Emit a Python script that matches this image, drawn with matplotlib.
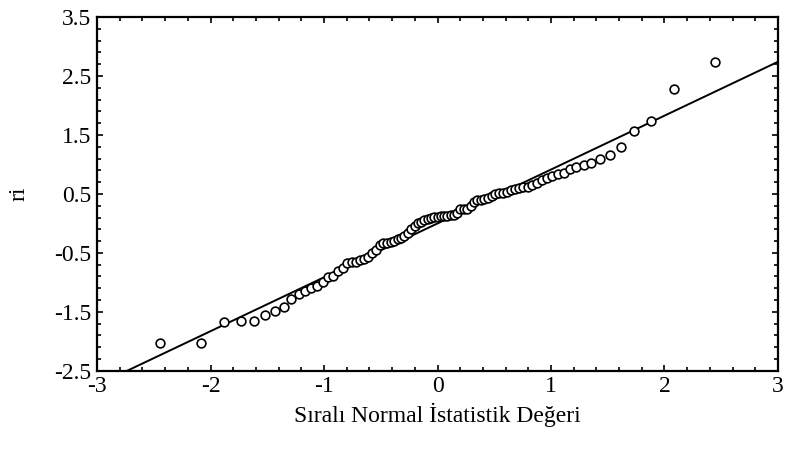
import numpy as np
import matplotlib
matplotlib.use("Agg")
import matplotlib.pyplot as plt

# expected normal order statistics
z = [-2.447, -2.083, -1.880, -1.732, -1.616, -1.518, -1.433, -1.357, -1.288, -1.224,
     -1.166, -1.111, -1.059, -1.010, -0.964, -0.919, -0.876, -0.834, -0.794, -0.755,
     -0.718, -0.681, -0.645, -0.610, -0.576, -0.543, -0.510, -0.477, -0.445, -0.414,
     -0.383, -0.352, -0.321, -0.291, -0.261, -0.232, -0.202, -0.173, -0.144, -0.115,
     -0.086, -0.058, -0.029, 0.000, 0.029, 0.058, 0.086, 0.115, 0.144, 0.173,
     0.202, 0.232, 0.261, 0.291, 0.321, 0.352, 0.383, 0.414, 0.445, 0.477,
     0.510, 0.543, 0.576, 0.610, 0.645, 0.681, 0.718, 0.755, 0.794, 0.834,
     0.876, 0.919, 0.964, 1.010, 1.059, 1.111, 1.166, 1.224, 1.288, 1.357,
     1.433, 1.518, 1.616, 1.732, 1.880, 2.083, 2.447]

# ordered residuals
ri = [-2.02, -2.02, -1.68, -1.65, -1.65, -1.56, -1.48, -1.42, -1.28, -1.19,
      -1.15, -1.09, -1.06, -0.99, -0.91, -0.89, -0.80, -0.75, -0.67, -0.66,
      -0.66, -0.62, -0.61, -0.57, -0.51, -0.45, -0.36, -0.34, -0.33, -0.32,
      -0.30, -0.27, -0.24, -0.21, -0.17, -0.09, -0.04, 0.00, 0.03, 0.06,
      0.08, 0.10, 0.11, 0.11, 0.12, 0.12, 0.13, 0.14, 0.15, 0.18,
      0.24, 0.24, 0.25, 0.30, 0.37, 0.39, 0.40, 0.42, 0.43, 0.46,
      0.50, 0.51, 0.52, 0.53, 0.57, 0.59, 0.60, 0.61, 0.62, 0.66,
      0.69, 0.73, 0.77, 0.81, 0.83, 0.86, 0.93, 0.95, 0.99, 1.02,
      1.09, 1.16, 1.30, 1.57, 1.74, 2.28, 2.73]

# reference line
slope = 0.914
intercept = 0.0

xticks = [-3, -2, -1, 0, 1, 2, 3]
yticks = [-2.5, -1.5, -0.5, 0.5, 1.5, 2.5, 3.5]

plt.rcParams['font.family'] = ['Liberation Serif', 'DejaVu Serif']

fig = plt.figure(figsize=(7.89, 4.5), dpi=100)
ax = fig.add_axes([0.123, 0.176, 0.863, 0.786])

xl = np.array([-3, 3])
ax.plot(xl, slope * xl + intercept, c="black", lw=1.4, zorder=2)
ax.plot(z, ri, ls="none", marker="o", markersize=6.3, mfc="white", mec="black",
        mew=1.2, zorder=3)

ax.set_xlim(-3, 3)
ax.set_ylim(-2.5, 3.5)
ax.set_xticks(xticks)
ax.set_xticklabels([str(t) for t in xticks])
ax.set_yticks(yticks)
ax.set_yticklabels([f"{t:g}" for t in yticks])
ax.set_xticks(np.arange(-3, 3.01, 0.2), minor=True)
ax.set_yticks(np.arange(-2.5, 3.51, 0.2), minor=True)
ax.tick_params(which="both", direction="in", top=True, right=True, width=1.2,
               labelsize=17, colors="black")
ax.tick_params(which="major", length=4, pad=4)
ax.tick_params(which="minor", length=3)
for s in ax.spines.values():
    s.set_linewidth(1.6)

ax.set_xlabel("Sıralı Normal İstatistik Değeri", fontsize=17, labelpad=4)
ax.set_ylabel("ri", fontsize=17, labelpad=18)

fig.savefig("out.png", dpi=100)
